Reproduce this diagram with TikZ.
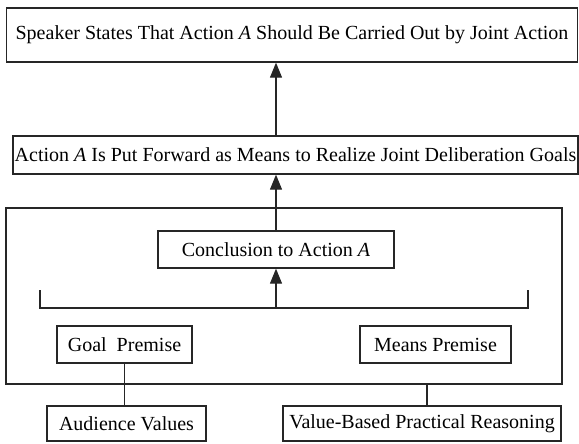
\documentclass[tikz,border=0pt]{standalone}
\usepackage{fontspec}
\setmainfont{Liberation Serif}
\usetikzlibrary{arrows.meta}
\begin{document}
\begin{tikzpicture}[x=1pt,y=-1pt,
  box/.style={draw=black!85, line width=1.3pt, inner sep=0pt,
    font=\fontsize{20}{24}\selectfont},
  frame/.style={draw=black!85, line width=1.3pt, inner sep=0pt},
  link/.style={draw=black!85, line width=1.1pt},
  arrow/.style={link, -{Triangle[length=15pt,width=12pt]}}]
\useasboundingbox (0,0) rectangle (579,444);

% statement boxes
\node[box, minimum width=571, minimum height=54] (speaker) at (292,35)
  {Speaker States That Action \textit{A} Should Be Carried Out by Joint Action};
\node[box, minimum width=565, minimum height=38] (forward) at (295.5,155)
  {Action \textit{A} Is Put Forward as Means to Realize Joint Deliberation Goals};

% practical reasoning frame
\node[frame, minimum width=556, minimum height=176] (frame) at (284,296) {};
\node[box, minimum width=236, minimum height=37] (concl) at (276,249.5)
  {Conclusion to Action \textit{A}};
\node[box, minimum width=135, minimum height=37] (goal) at (124.5,344.5)
  {Goal\ \ Premise};
\node[box, minimum width=151, minimum height=37] (means) at (435.5,344.5)
  {Means Premise};

% bracket joining the premises
\coordinate (brk) at (276,308);
\coordinate (brkL) at (40,308);
\coordinate (brkR) at (528,308);
\draw[link] ([yshift=18pt]brkL) -- (brkL) -- (brkR) -- ([yshift=18pt]brkR);

% sources of the premises
\node[box, minimum width=159, minimum height=35] (audience) at (126.5,423.5)
  {Audience Values};
\node[box, minimum width=278, minimum height=35] (vbpr) at (422,423.5)
  {Value-Based Practical Reasoning};

% connectors
\draw[arrow] (brk) -- (concl.south);
\draw[arrow] (concl.north) -- (concl.north |- forward.south);
\draw[arrow] (forward.north -| concl.north) -- (speaker.south -| concl.north);
\draw[link] (goal.south) -- (goal.south |- audience.north);
\coordinate (vb) at (427,384);
\draw[link] (vb) -- (vb |- vbpr.north);
\end{tikzpicture}
\end{document}
